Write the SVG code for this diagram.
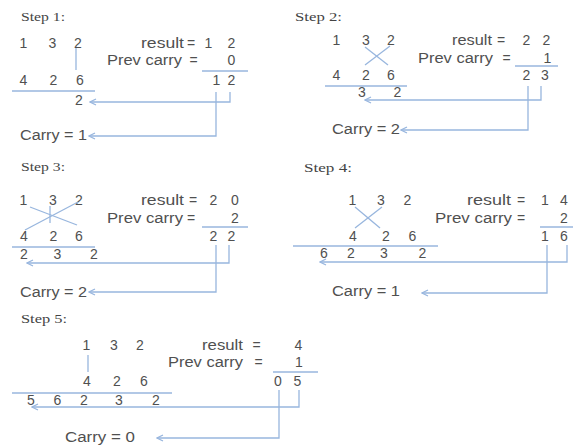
<svg xmlns="http://www.w3.org/2000/svg" width="573" height="445" viewBox="0 0 573 445">
<defs>
<style>
text{font-family:"Liberation Sans",Arial,sans-serif;font-size:14px;fill:#505050;}
.d{text-anchor:middle;}
.h{font-family:"Liberation Serif","Times New Roman",serif;font-size:12px;fill:#444;}
.ln{stroke:#98b6de;stroke-width:1.3;fill:none;}
.ar{stroke:#98b6de;stroke-width:1.3;fill:none;marker-end:url(#ah);}
</style>
<marker id="ah" viewBox="0 0 8 8" refX="7" refY="4" markerWidth="8" markerHeight="8" markerUnits="userSpaceOnUse" orient="auto">
<path d="M1,1 L7,4 L1,7" fill="none" stroke="#98b6de" stroke-width="1.3"/>
</marker>
</defs>
<rect width="573" height="445" fill="#fff"/>

<g id="step1">
<text class="h" x="21" y="21" textLength="44" lengthAdjust="spacingAndGlyphs">Step 1:</text>
<text class="d" x="23.5" y="48">1</text><text class="d" x="52.5" y="48">3</text><text class="d" x="78" y="48">2</text>
<text class="d" x="23.5" y="85">4</text><text class="d" x="53.5" y="85">2</text><text class="d" x="80" y="85">6</text>
<text class="d" x="79" y="105">2</text>
<text x="141" y="48" textLength="43" lengthAdjust="spacingAndGlyphs">result</text>
<text class="d" x="191" y="48">=</text><text class="d" x="208.5" y="48">1</text><text class="d" x="231.5" y="48">2</text>
<text x="107" y="65" textLength="75" lengthAdjust="spacingAndGlyphs">Prev carry</text>
<text class="d" x="193.5" y="65">=</text><text class="d" x="231.5" y="65">0</text>
<text class="d" x="216.5" y="85">1</text><text class="d" x="231.5" y="85">2</text>
<text x="20" y="140" textLength="67" lengthAdjust="spacingAndGlyphs">Carry = 1</text>
</g>

<g id="step2">
<text class="h" x="295" y="21" textLength="47" lengthAdjust="spacingAndGlyphs">Step 2:</text>
<text class="d" x="336.5" y="45">1</text><text class="d" x="366" y="45">3</text><text class="d" x="391" y="45">2</text>
<text class="d" x="336.5" y="80">4</text><text class="d" x="366" y="80">2</text><text class="d" x="391" y="80">6</text>
<text class="d" x="362" y="97">3</text><text class="d" x="397.5" y="97">2</text>
<text x="452" y="45" textLength="40" lengthAdjust="spacingAndGlyphs">result</text>
<text class="d" x="501" y="45">=</text><text class="d" x="526.5" y="45">2</text><text class="d" x="546.5" y="45">2</text>
<text x="418" y="63" textLength="75" lengthAdjust="spacingAndGlyphs">Prev carry</text>
<text class="d" x="506.5" y="63">=</text><text class="d" x="547.5" y="63">1</text>
<text class="d" x="526.5" y="80">2</text><text class="d" x="545" y="80">3</text>
<text x="332" y="134" textLength="68" lengthAdjust="spacingAndGlyphs">Carry = 2</text>
</g>

<g id="step3">
<text class="h" x="21" y="171" textLength="44" lengthAdjust="spacingAndGlyphs">Step 3:</text>
<text class="d" x="23.5" y="205">1</text><text class="d" x="53" y="205">3</text><text class="d" x="79" y="205">2</text>
<text class="d" x="24" y="241">4</text><text class="d" x="53.5" y="241">2</text><text class="d" x="79" y="241">6</text>
<text class="d" x="24" y="259">2</text><text class="d" x="57.5" y="259">3</text><text class="d" x="94" y="259">2</text>
<text x="141" y="205" textLength="43" lengthAdjust="spacingAndGlyphs">result</text>
<text class="d" x="193" y="205">=</text><text class="d" x="213.5" y="205">2</text><text class="d" x="235" y="205">0</text>
<text x="107" y="223" textLength="76" lengthAdjust="spacingAndGlyphs">Prev carry</text>
<text class="d" x="191" y="223">=</text><text class="d" x="235" y="223">2</text>
<text class="d" x="213.5" y="241">2</text><text class="d" x="231.5" y="241">2</text>
<text x="20" y="297" textLength="67" lengthAdjust="spacingAndGlyphs">Carry = 2</text>
</g>

<g id="step4">
<text class="h" x="304" y="172" textLength="48" lengthAdjust="spacingAndGlyphs">Step 4:</text>
<text class="d" x="352.5" y="205">1</text><text class="d" x="381" y="205">3</text><text class="d" x="407.5" y="205">2</text>
<text class="d" x="353" y="241">4</text><text class="d" x="386" y="241">2</text><text class="d" x="412.5" y="241">6</text>
<text class="d" x="324" y="258">6</text><text class="d" x="351" y="258">2</text><text class="d" x="384" y="258">3</text><text class="d" x="422.5" y="258">2</text>
<text x="467" y="205" textLength="44" lengthAdjust="spacingAndGlyphs">result</text>
<text class="d" x="521" y="205">=</text><text class="d" x="545" y="205">1</text><text class="d" x="564" y="205">4</text>
<text x="435" y="223" textLength="77" lengthAdjust="spacingAndGlyphs">Prev carry</text>
<text class="d" x="521" y="223">=</text><text class="d" x="564" y="223">2</text>
<text class="d" x="545" y="241">1</text><text class="d" x="564" y="241">6</text>
<text x="332" y="296" textLength="68" lengthAdjust="spacingAndGlyphs">Carry = 1</text>
</g>

<g id="step5">
<text class="h" x="21" y="323" textLength="46" lengthAdjust="spacingAndGlyphs">Step 5:</text>
<text class="d" x="86.5" y="350">1</text><text class="d" x="114" y="350">3</text><text class="d" x="140" y="350">2</text>
<text class="d" x="87" y="386">4</text><text class="d" x="117" y="386">2</text><text class="d" x="144" y="386">6</text>
<text class="d" x="31" y="405">5</text><text class="d" x="57.5" y="405">6</text><text class="d" x="84" y="405">2</text><text class="d" x="119" y="405">3</text><text class="d" x="156" y="405">2</text>
<text x="202" y="350" textLength="41" lengthAdjust="spacingAndGlyphs">result</text>
<text class="d" x="256.5" y="350">=</text><text class="d" x="298.5" y="350">4</text>
<text x="168" y="367" textLength="75" lengthAdjust="spacingAndGlyphs">Prev carry</text>
<text class="d" x="258.5" y="367">=</text><text class="d" x="299" y="367">1</text>
<text class="d" x="278" y="386">0</text><text class="d" x="297.5" y="386">5</text>
<text x="65" y="442" textLength="70" lengthAdjust="spacingAndGlyphs">Carry = 0</text>
</g>

<g id="connectors">
<line class="ln" x1="76" y1="48" x2="76" y2="70"/>
<line class="ln" x1="12" y1="91" x2="95" y2="91"/>
<line class="ln" x1="202" y1="71" x2="248" y2="71"/>
<path class="ar" d="M230,92 V102 H90"/>
<path class="ar" d="M216,92 V136 H89"/>
<line class="ln" x1="365" y1="47" x2="388" y2="65"/>
<line class="ln" x1="390" y1="46" x2="365" y2="65"/>
<line class="ln" x1="325" y1="86" x2="407" y2="86"/>
<line class="ln" x1="515" y1="66" x2="558" y2="66"/>
<path class="ar" d="M541,86 V100 H365"/>
<path class="ar" d="M528,86 V130 H401"/>
<line class="ln" x1="30" y1="207" x2="77" y2="225"/>
<line class="ln" x1="78" y1="202" x2="25" y2="230"/>
<line class="ln" x1="50" y1="206" x2="50" y2="223"/>
<line class="ln" x1="12" y1="247" x2="95" y2="247"/>
<line class="ln" x1="202" y1="227" x2="248" y2="227"/>
<path class="ar" d="M229,245 V263 H27"/>
<path class="ar" d="M216,245 V292 H89"/>
<line class="ln" x1="355" y1="207" x2="380" y2="228"/>
<line class="ln" x1="382" y1="207" x2="355" y2="228"/>
<line class="ln" x1="293" y1="246" x2="438" y2="246"/>
<line class="ln" x1="540" y1="227" x2="573" y2="227"/>
<path class="ar" d="M567,245 V262 H320"/>
<path class="ar" d="M547,245 V293 H422"/>
<line class="ln" x1="88" y1="355" x2="88" y2="372"/>
<line class="ln" x1="12" y1="393" x2="172" y2="393"/>
<line class="ln" x1="273" y1="372" x2="318" y2="372"/>
<path class="ar" d="M299,390 V407 H32"/>
<path class="ar" d="M279,390 V438 H157"/>
</g>
</svg>
